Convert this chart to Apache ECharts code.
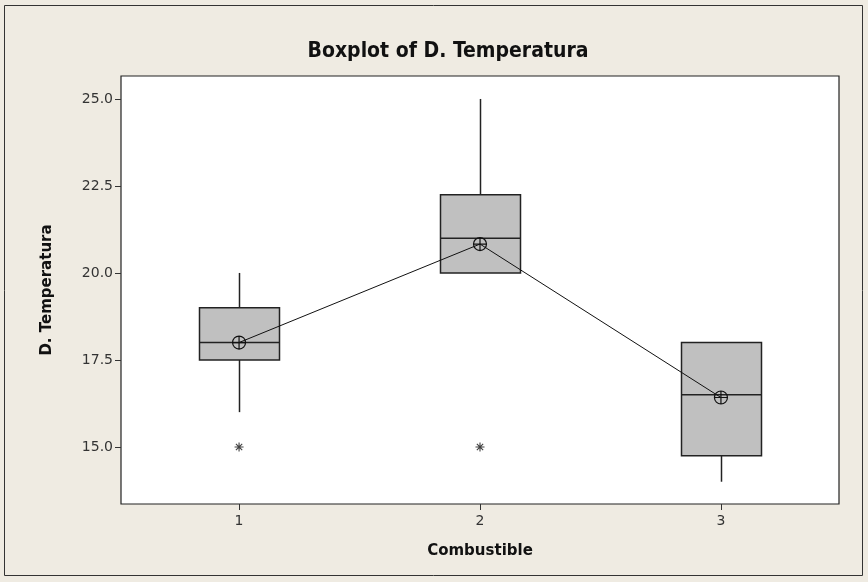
<!DOCTYPE html>
<html>
<head>
<meta charset="utf-8">
<script src="https://cdn.jsdelivr.net/npm/echarts@6/dist/echarts.min.js"></script>
<style>
html,body{margin:0;padding:0;background:#EFEBE2;}
#c{width:868px;height:582px;}
</style>
</head>
<body>
<div id="c"></div>
<script>
// ---- data ----
var categories = ["1", "2", "3"];
var xPositions = [1, 2, 3];
// [lowWhisker, Q1, median, Q3, highWhisker]
var lowWhisker = [16, 20, 14];
var q1 = [17.5, 20, 14.75];
var median = [18, 21, 16.5];
var q3 = [19, 22.25, 18];
var highWhisker = [20, 25, 18];
var means = [18.0, 20.83, 16.42];
var outliers = [[1, 15], [2, 15]];
var yTicks = [15, 17.5, 20, 22.5, 25];

var chart = echarts.init(document.getElementById('c'), null, {renderer: 'canvas'});

var boxData = xPositions.map(function (x, i) {
  return [x, lowWhisker[i], q1[i], median[i], q3[i], highWhisker[i]];
});
var meanData = xPositions.map(function (x, i) { return [x, means[i]]; });

var meanSymbol = 'path://M0,6A6,6,0,1,1,12,6A6,6,0,1,1,0,6ZM6,0L6,12M0,6L12,6';
var starSymbol = 'path://M5,0L5,10M0,5L10,5M1.5,1.5L8.5,8.5M8.5,1.5L1.5,8.5';

var font = 'Tahoma, "DejaVu Sans", sans-serif';
var boldFont = '"DejaVu Sans", sans-serif';

chart.setOption({
  backgroundColor: '#EFEBE2',
  animation: false,
  title: {
    text: 'Boxplot of D. Temperatura',
    left: 443, top: 36, textAlign: 'center',
    textStyle: {fontFamily: '"DejaVu Sans Condensed", "DejaVu Sans", sans-serif', fontWeight: 'bold', fontSize: 21, color: '#111'}
  },
  graphic: [{
    type: 'rect', shape: {x: 4.5, y: 5.5, width: 858, height: 570},
    style: {fill: null, stroke: '#333', lineWidth: 1}, silent: true
  }],
  grid: {left: 121, right: 29, top: 76, bottom: 78, show: true, backgroundColor: '#ffffff', borderColor: '#222', borderWidth: 1.2},
  xAxis: {
    type: 'value', min: 0.51, max: 3.49,
    name: 'Combustible', nameLocation: 'middle', nameGap: 40,
    nameTextStyle: {fontFamily: boldFont, fontWeight: 'bold', fontSize: 15, color: '#111'},
    axisLine: {show: false},
    splitLine: {show: false},
    axisTick: {show: true, customValues: xPositions, length: 6, inside: false, lineStyle: {color: '#333'}},
    axisLabel: {customValues: xPositions, margin: 10, fontFamily: font, fontSize: 14, color: '#333',
      formatter: function (v) { return categories[xPositions.indexOf(v)]; }}
  },
  yAxis: {
    type: 'value', min: 13.36, max: 25.66,
    name: 'D. Temperatura', nameLocation: 'middle', nameGap: 66, nameRotate: 90,
    nameTextStyle: {fontFamily: boldFont, fontWeight: 'bold', fontSize: 15, color: '#111'},
    axisLine: {show: false},
    splitLine: {show: false},
    axisTick: {show: true, customValues: yTicks, length: 6, lineStyle: {color: '#333'}},
    axisLabel: {customValues: yTicks, margin: 8, fontFamily: font, fontSize: 14, color: '#333',
      formatter: function (v) { return v.toFixed(1); }}
  },
  series: [{
    type: 'custom',
    data: boxData,
    encode: {x: 0, y: [1, 2, 3, 4, 5]},
    renderItem: function (params, api) {
      var x = api.value(0);
      var pLow = api.coord([x, api.value(1)]);
      var pQ1 = api.coord([x, api.value(2)]);
      var pMed = api.coord([x, api.value(3)]);
      var pQ3 = api.coord([x, api.value(4)]);
      var pHigh = api.coord([x, api.value(5)]);
      var hw = 40;
      var cx = Math.round(pQ1[0]) + 0.5;
      var stroke = {stroke: '#222', lineWidth: 1.5};
      var children = [];
      if (pHigh[1] < pQ3[1] - 0.5) {
        children.push({type: 'line', shape: {x1: cx, y1: pQ3[1], x2: cx, y2: pHigh[1]}, style: stroke});
      }
      if (pLow[1] > pQ1[1] + 0.5) {
        children.push({type: 'line', shape: {x1: cx, y1: pQ1[1], x2: cx, y2: pLow[1]}, style: stroke});
      }
      children.push({type: 'rect', shape: {x: cx - hw, y: pQ3[1], width: 2 * hw, height: pQ1[1] - pQ3[1]},
        style: {fill: '#C0C0C0', stroke: '#222', lineWidth: 1.5}});
      children.push({type: 'line', shape: {x1: cx - hw, y1: pMed[1], x2: cx + hw, y2: pMed[1]}, style: stroke});
      return {type: 'group', children: children};
    },
    z: 1
  }, {
    type: 'line',
    data: meanData,
    symbol: meanSymbol,
    symbolSize: 13,
    showSymbol: true,
    lineStyle: {color: '#111', width: 1},
    itemStyle: {color: 'rgba(0,0,0,0)', borderColor: '#111', borderWidth: 1.2},
    z: 3
  }, {
    type: 'scatter',
    data: outliers,
    symbol: starSymbol,
    symbolSize: 9,
    itemStyle: {color: 'rgba(0,0,0,0)', borderColor: '#111', borderWidth: 1.1},
    z: 3
  }]
});
</script>
</body>
</html>
